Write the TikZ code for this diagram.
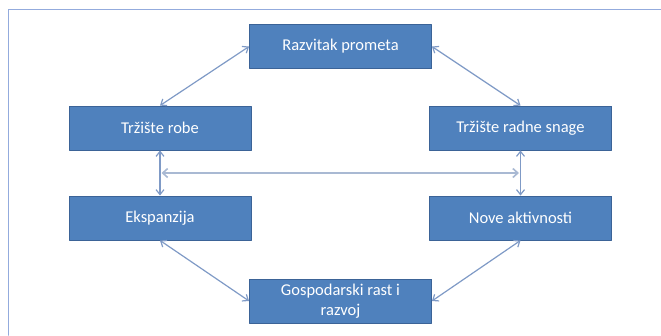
\documentclass[tikz,border=0pt]{standalone}
\usepackage{fontspec}
\setmainfont{Carlito}
\usepackage{xcolor}
\usepackage{tikz}
\usetikzlibrary{arrows.meta,calc}
\definecolor{boxfill}{HTML}{4F81BD}
\definecolor{boxline}{HTML}{3B6397}
\definecolor{link}{HTML}{7F9AC6}
\definecolor{linklight}{HTML}{A9B9D3}
\definecolor{frame}{HTML}{93ABDD}
\tikzset{
  blok/.style={draw=boxline, fill=boxfill, line width=0.9pt, text=white,
    minimum width=182pt, minimum height=44pt, inner sep=2pt,
    align=center, font=\fontsize{16.5}{20}\selectfont},
  veza/.style={draw=link, line width=1.2pt, {Straight Barb[length=5pt,width=8pt]}-{Straight Barb[length=5pt,width=8pt]}},
  vezasvj/.style={draw=linklight, line width=1.6pt, {Straight Barb[length=5pt,width=9pt]}-{Straight Barb[length=5pt,width=9pt]}},
  okvir/.style={draw=frame, line width=1.8pt}
}

\begin{document}
\begin{tikzpicture}[x=1pt, y=-1pt, line cap=round, line join=round]
  \useasboundingbox (0,0) rectangle (661,335);
  \draw[okvir] (8.5,335) -- (8.5,9.5) -- (661,9.5);
  % blokovi
  \node[blok] (promet) at (340.5,46.5) {Razvitak prometa};
  \node[blok] (robe) at (160,128) {Tržište robe};
  \node[blok] (snaga) at (520.5,128) {Tržište radne snage};
  \node[blok] (eksp) at (160,218) {Ekspanzija};
  \node[blok] (nove) at (520.5,218) {Nove aktivnosti};
  \node[blok] (rast) at (340.5,301) {Gospodarski rast i\\razvoj};
  % veze
  \draw[veza] (promet.west) -- (robe.north);
  \draw[veza] (promet.east) -- (snaga.north);
  \draw[veza] (robe.south) -- (eksp.north);
  \draw[veza] (snaga.south) -- (nove.north);
  \draw[veza] (eksp.south) -- (rast.west);
  \draw[veza] (nove.south) -- (rast.east);
  \coordinate (lijevo) at ($(robe.south)!0.5!(eksp.north)$);
  \coordinate (desno) at ($(snaga.south)!0.5!(nove.north)$);
  \draw[vezasvj] ([xshift=1.5pt]lijevo) -- ([xshift=-1.5pt]desno);
\end{tikzpicture}
\end{document}
